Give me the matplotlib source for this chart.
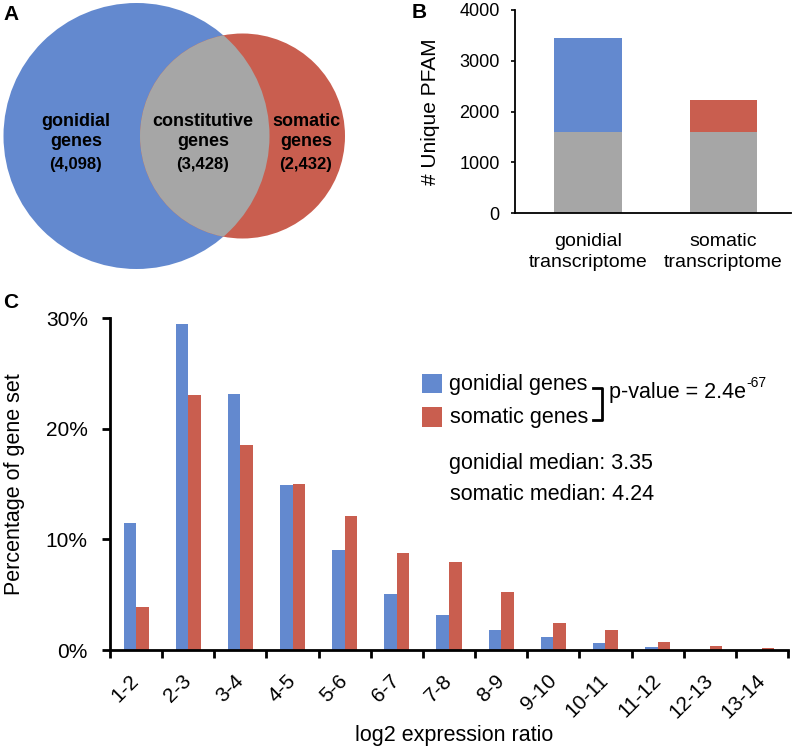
import matplotlib
matplotlib.use("Agg")
import matplotlib.pyplot as plt
from matplotlib.patches import Circle, Rectangle
from matplotlib.lines import Line2D
import numpy as np

plt.rcParams['font.family'] = ['Liberation Sans', 'DejaVu Sans']

# Panel A - Venn counts
venn_labels = ["gonidial\ngenes", "constitutive\ngenes", "somatic\ngenes"]
venn_counts = ["(4,098)", "(3,428)", "(2,432)"]

# Panel B - unique PFAM
pfam_groups = ["gonidial\ntranscriptome", "somatic\ntranscriptome"]
pfam_shared = [1590, 1590]
pfam_specific = [1855, 640]

# Panel C - log2 expression ratio distribution
ratio_bins = ["1-2", "2-3", "3-4", "4-5", "5-6", "6-7", "7-8", "8-9",
              "9-10", "10-11", "11-12", "12-13", "13-14"]
gonidial_pct = [11.45, 29.45, 23.1, 14.9, 9.03, 5.06, 3.16, 1.8, 1.15, 0.6, 0.27, 0.0, 0.0]
somatic_pct = [3.85, 23.0, 18.5, 15.0, 12.1, 8.73, 7.92, 5.2, 2.4, 1.78, 0.7, 0.33, 0.15]

BLUE = '#6389CF'
RED = '#C95E4F'
GRAY = '#A6A6A6'

W, H = 794, 749
fig = plt.figure(figsize=(W / 100, H / 100), dpi=100)


def fx(x):
    return x / W


def fy(y):
    return 1 - y / H


# ---------- Panel A ----------
axA = fig.add_axes([0, fy(290), fx(400), 290 / H])
axA.set_xlim(0, 400)
axA.set_ylim(290, 0)
axA.axis('off')
blue_c = Circle((136.5, 136), 133, facecolor=BLUE, edgecolor='none')
red_c = Circle((242.5, 136), 102.5, facecolor=RED, edgecolor='none')
axA.add_patch(blue_c)
axA.add_patch(red_c)
gray_c = Circle((242.5, 136), 102.5, facecolor=GRAY, edgecolor='none')
axA.add_patch(gray_c)
gray_c.set_clip_path(blue_c)
for xc, lab, cnt in zip([76, 203, 306], venn_labels, venn_counts):
    axA.text(xc, 131.5, lab, ha='center', va='center', fontsize=13,
             fontweight='bold', linespacing=1.25)
    axA.text(xc, 164, cnt, ha='center', va='center', fontsize=12,
             fontweight='bold')

# ---------- Panel B ----------
axB = fig.add_axes([fx(515), fy(213.3), 276 / W, 203.3 / H])
xb = np.arange(len(pfam_groups))
axB.bar(xb, pfam_shared, width=0.5, color=GRAY)
axB.bar(xb, pfam_specific, width=0.5, bottom=pfam_shared, color=[BLUE, RED])
axB.set_xlim(-0.54, 1.5)
axB.set_ylim(0, 4000)
axB.set_yticks([0, 1000, 2000, 3000, 4000])
axB.tick_params(axis='y', labelsize=13, length=3, width=1.2, pad=8)
axB.set_xticks(xb)
axB.set_xticklabels(pfam_groups, fontsize=14, linespacing=1.35)
axB.tick_params(axis='x', length=0, pad=14)
for s in ['top', 'right']:
    axB.spines[s].set_visible(False)
for s in ['left', 'bottom']:
    axB.spines[s].set_linewidth(1.3)
axB.set_ylabel("# Unique PFAM", fontsize=15)
axB.yaxis.set_label_coords(-0.27, 0.5)

# ---------- Panel C ----------
axC = fig.add_axes([fx(110), fy(650), 678 / W, 332 / H])
xc = np.arange(len(ratio_bins)) + 0.5
bw = 0.24
axC.bar(xc - bw / 2, gonidial_pct, width=bw, color=BLUE)
axC.bar(xc + bw / 2, somatic_pct, width=bw, color=RED)
axC.set_xlim(0, len(ratio_bins))
axC.set_ylim(0, 30)
axC.set_yticks([0, 10, 20, 30])
axC.set_yticklabels(["0%", "10%", "20%", "30%"])
axC.set_xticks(np.arange(len(ratio_bins) + 1))
axC.set_xticklabels([])
axC.set_xticks(xc, minor=True)
axC.set_xticklabels(ratio_bins, minor=True, rotation=45, ha='right',
                    va='center', rotation_mode='anchor', fontsize=15)
axC.tick_params(axis='x', which='minor', length=0, pad=20)
axC.tick_params(axis='x', which='major', length=6, width=2)
axC.tick_params(axis='y', length=6, width=2, labelsize=15, pad=10)
for s in ['top', 'right']:
    axC.spines[s].set_visible(False)
for s in ['left', 'bottom']:
    axC.spines[s].set_linewidth(2)
axC.set_ylabel("Percentage of gene set", fontsize=15.5)
axC.yaxis.set_label_coords(-0.125, 0.5)
axC.set_xlabel("log2 expression ratio", fontsize=15.5)
axC.xaxis.set_label_coords(0.507, -0.225)

# legend and annotations
fig.patches.append(Rectangle((fx(422), fy(392.7)), 19.7 / W, 18.7 / H,
                             transform=fig.transFigure, facecolor=BLUE,
                             edgecolor='none'))
fig.patches.append(Rectangle((fx(422), fy(426.7)), 19.7 / W, 19.7 / H,
                             transform=fig.transFigure, facecolor=RED,
                             edgecolor='none'))
fig.text(fx(449), fy(385), "gonidial genes", fontsize=15.5, va='center')
fig.text(fx(450), fy(418), "somatic genes", fontsize=15.5, va='center')
bx = [fx(593), fx(602), fx(602), fx(593)]
by = [fy(388), fy(388), fy(420), fy(420)]
fig.add_artist(Line2D(bx, by, transform=fig.transFigure, color='black', lw=2))
fig.text(fx(609), fy(398.3), "p-value = 2.4e", fontsize=15.5, va='baseline')
fig.text(fx(746), fy(387), "-67", fontsize=10, va='baseline')
fig.text(fx(449), fy(463), "gonidial median: 3.35", fontsize=15.5, va='center')
fig.text(fx(450), fy(494), "somatic median: 4.24", fontsize=15.5, va='center')

# panel letters
fig.text(fx(3), fy(15), "A", fontsize=15, fontweight='bold', va='center')
fig.text(fx(412), fy(12), "B", fontsize=15, fontweight='bold', va='center')
fig.text(fx(3), fy(303), "C", fontsize=15, fontweight='bold', va='center')

fig.savefig("out.png", dpi=100)
